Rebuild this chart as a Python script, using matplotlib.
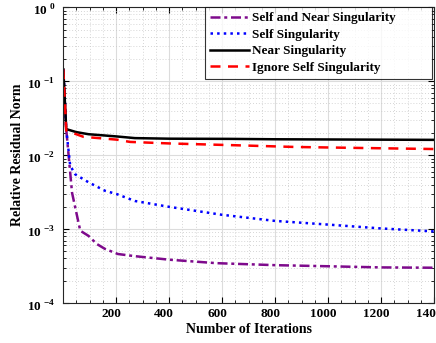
import math
import matplotlib
matplotlib.use("Agg")
import matplotlib.pyplot as plt
from matplotlib.transforms import ScaledTranslation
from matplotlib.ticker import LogLocator, MultipleLocator, FixedLocator, NullFormatter, FuncFormatter

plt.rcParams['font.family'] = ['Liberation Serif', 'DejaVu Serif']
plt.rcParams['font.weight'] = 'bold'
plt.rcParams['mathtext.fontset'] = 'custom'
plt.rcParams['mathtext.rm'] = 'Liberation Serif:bold'
plt.rcParams['mathtext.bf'] = 'Liberation Serif:bold'

# Data
x_self_near = [1, 12, 34, 65, 96, 127, 158, 207, 271, 402, 578, 800, 1000, 1200, 1400]
y_self_near = [0.145, 0.0225, 0.0031, 0.00095, 0.00081, 0.00063, 0.00054, 0.00046,
               0.00043, 0.000385, 0.000346, 0.000325, 0.000314, 0.000303, 0.0003]

x_self = [1, 12, 27, 46, 96, 158, 203, 271, 400, 600, 800, 1000, 1200, 1400]
y_self = [0.145, 0.0225, 0.0072, 0.0055, 0.0043, 0.0033, 0.00297, 0.0024, 0.0020,
          0.00156, 0.00129, 0.00115, 0.00102, 0.00093]

x_near = [1, 12, 50, 96, 203, 271, 400, 628, 800, 1000, 1200, 1400]
y_near = [0.145, 0.0225, 0.0205, 0.0192, 0.0179, 0.0170, 0.0167, 0.0166, 0.0164,
          0.0163, 0.0162, 0.0161]

x_ignore = [1, 12, 77, 203, 253, 402, 654, 877, 1127, 1400]
y_ignore = [0.145, 0.0215, 0.0177, 0.0162, 0.0151, 0.0144, 0.0136, 0.0129, 0.0125, 0.0121]

labels = ['Self and Near Singularity', 'Self Singularity', 'Near Singularity',
          'Ignore Self Singularity']
xticks = [200, 400, 600, 800, 1000, 1200, 1400]

fig = plt.figure(figsize=(4.36, 3.43), dpi=100)
L, R, T, B = 63.3, 434.0, 7.3, 303.0
ax = fig.add_axes([L/436, 1 - B/343, (R - L)/436, (B - T)/343])

ax.semilogy(x_self_near, y_self_near, color='#7E0A8C', ls='-.', lw=1.8, label=labels[0],
            dashes=(4, 1.5, 1.2, 1.5))
ax.semilogy(x_self, y_self, color='#0000FF', ls=':', lw=1.8, label=labels[1])
ax.semilogy(x_near, y_near, color='black', ls='-', lw=1.8, label=labels[2])
ax.semilogy(x_ignore, y_ignore, color='#FF0000', ls='--', lw=1.8, label=labels[3],
            dashes=(4, 3))

ax.set_xlim(1, 1400)
ax.set_ylim(1e-4, 1)
ax.xaxis.set_major_locator(FixedLocator(xticks))
ax.xaxis.set_minor_locator(MultipleLocator(50))
ax.yaxis.set_major_locator(LogLocator(base=10, numticks=10))
ax.yaxis.set_minor_locator(LogLocator(base=10, subs=range(2, 10), numticks=20))
ax.yaxis.set_minor_formatter(NullFormatter())

def yfmt(v, pos):
    e = int(round(math.log10(v)))
    return r'$\mathbf{10}^{\;\mathbf{%d}}$' % e
ax.yaxis.set_major_formatter(FuncFormatter(yfmt))

ax.grid(True, which='major', color='#dcdcdc', lw=0.8, ls='-')
ax.grid(True, which='minor', color='#c8c8c8', lw=0.6, ls=(0, (1, 2.5)))
ax.set_axisbelow(True)
ax.tick_params(which='both', direction='in', top=True, right=True, labelsize=9.5)
ax.tick_params(axis='y', which='major', pad=6)
ax.tick_params(which='major', length=4)
ax.tick_params(which='minor', length=2)
for s in ax.spines.values():
    s.set_color('#262626')
    s.set_linewidth(0.8)

# reference tick labels sit slightly left (x) / lower (y) of their ticks
xoff = ScaledTranslation(-5/100, 0, fig.dpi_scale_trans)
for lab in ax.get_xticklabels():
    lab.set_transform(lab.get_transform() + xoff)
yoff = ScaledTranslation(0, -2/100, fig.dpi_scale_trans)
for lab in ax.get_yticklabels():
    lab.set_transform(lab.get_transform() + yoff)

ax.set_xlabel('Number of Iterations', fontsize=10, fontweight='bold', labelpad=2)
ax.set_ylabel('Relative Residual Norm', fontsize=10, fontweight='bold', labelpad=2)

x0 = (205 - L) / (R - L)
w = (432 - 205) / (R - L)
leg = ax.legend(loc='upper left', fontsize=9.5, frameon=True, fancybox=False,
                edgecolor='black', borderaxespad=0.0, handlelength=3.0,
                handletextpad=0.2, labelspacing=0.33, borderpad=0.35,
                bbox_to_anchor=(x0, 0.0, w, 1.0), mode='expand')
leg.get_frame().set_linewidth(0.8)

fig.savefig('out.png', dpi=100)
